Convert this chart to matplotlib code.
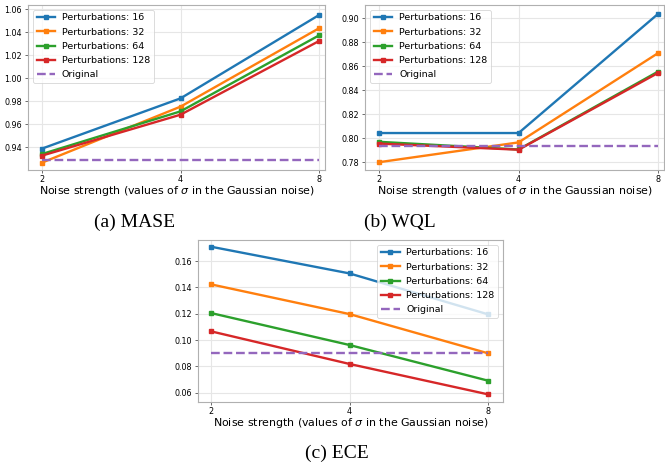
import matplotlib
matplotlib.use("Agg")
import matplotlib.pyplot as plt

sigma = [2, 4, 8]
perturbations = [16, 32, 64, 128]

mase = {
    16: [0.9386, 0.9823, 1.0548],
    32: [0.9264, 0.9751, 1.0433],
    64: [0.9339, 0.9710, 1.0371],
    128: [0.9325, 0.9681, 1.0322],
}
mase_original = 0.9287

wql = {
    16: [0.8043, 0.8043, 0.9036],
    32: [0.7800, 0.7965, 0.8709],
    64: [0.7970, 0.7906, 0.8555],
    128: [0.7955, 0.7904, 0.8544],
}
wql_original = 0.7937

ece = {
    16: [0.1709, 0.1506, 0.1195],
    32: [0.1423, 0.1197, 0.0899],
    64: [0.1205, 0.0962, 0.0691],
    128: [0.1066, 0.0818, 0.0587],
}
ece_original = 0.0899

colors = ['tab:blue', 'tab:orange', 'tab:green', 'tab:red']
xlabel = r"Noise strength (values of $\sigma$ in the Gaussian noise)"


def draw_panel(ax, data, original, xlim, ylim, yticks, legend_loc):
    for p, c in zip(perturbations, colors):
        ax.plot(sigma, data[p], color=c, marker='s', markersize=3, lw=1.7,
                label="Perturbations: %d" % p)
    ax.plot(sigma, [original] * len(sigma), color='tab:purple', ls='--', lw=1.7,
            label="Original")
    ax.set_xscale('log', base=2)
    ax.set_xticks(sigma)
    ax.set_xticklabels([str(s) for s in sigma])
    ax.minorticks_off()
    ax.set_xlim(*xlim)
    ax.set_ylim(*ylim)
    ax.set_yticks(yticks)
    ax.set_yticklabels(["%.2f" % t for t in yticks])
    ax.tick_params(labelsize=5.8, length=2.5, width=0.6, pad=2, color='#555555')
    ax.tick_params(axis='x', pad=1.2)
    ax.grid(True, color='#e6e6e6', lw=0.8)
    ax.set_axisbelow(True)
    for s in ax.spines.values():
        s.set_color('#b0b0b0')
        s.set_linewidth(0.8)
    ax.set_xlabel(xlabel, fontsize=7.9, labelpad=0)
    leg = ax.legend(loc=legend_loc, fontsize=6.8, handlelength=2.0,
                    borderpad=0.4, labelspacing=0.55, handletextpad=0.7,
                    framealpha=0.8, fancybox=True)
    leg.get_frame().set_linewidth(0.6)


fig = plt.figure(figsize=(6.65, 4.68), dpi=100)

ax_a = fig.add_axes([28 / 665, 1 - 170 / 468, 297 / 665, 165 / 468])
draw_panel(ax_a, mase, mase_original, (1.865, 8.24), (0.920, 1.0635),
           [0.94, 0.96, 0.98, 1.00, 1.02, 1.04, 1.06], 'upper left')

ax_b = fig.add_axes([365 / 665, 1 - 170 / 468, 299 / 665, 165 / 468])
draw_panel(ax_b, wql, wql_original, (1.865, 8.24), (0.7735, 0.911),
           [0.78, 0.80, 0.82, 0.84, 0.86, 0.88, 0.90], 'upper left')

ax_c = fig.add_axes([198 / 665, 1 - 402 / 468, 305 / 665, 162 / 468])
draw_panel(ax_c, ece, ece_original, (1.874, 8.62), (0.0529, 0.176),
           [0.06, 0.08, 0.10, 0.12, 0.14, 0.16], 'upper right')

cap = dict(fontsize=14, family='Liberation Serif', ha='center', va='center')
fig.text(135 / 665, 1 - 222 / 468, "(a) MASE", **cap)
fig.text(400 / 665, 1 - 222 / 468, "(b) WQL", **cap)
fig.text(337 / 665, 1 - 453 / 468, "(c) ECE", **cap)

fig.savefig("out.png", dpi=100)
